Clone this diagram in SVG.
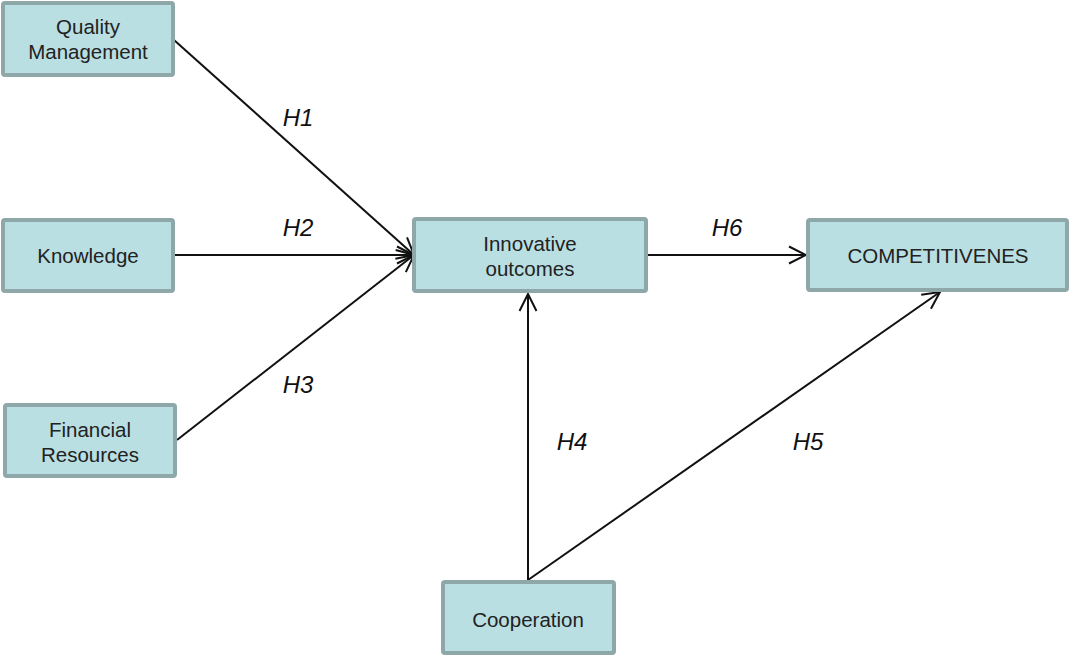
<svg xmlns="http://www.w3.org/2000/svg" width="1073" height="656" viewBox="0 0 1073 656">
<style>
.box{fill:#b9dfe3;stroke:#8ea7a9;stroke-width:4}
.t{font-family:"Liberation Sans",Arial,sans-serif;font-size:20.5px;fill:#222;text-anchor:middle}
.h{font-family:"Liberation Sans",Arial,sans-serif;font-size:24px;font-style:italic;fill:#111;text-anchor:middle}
.c{stroke:#111;stroke-width:2;fill:none;marker-end:url(#arr)}
</style>
<defs>
<marker id="arr" viewBox="0 0 20 20" refX="18" refY="10" markerWidth="20" markerHeight="20" markerUnits="userSpaceOnUse" orient="auto">
<path d="M1,1.5 L18,10 L1,18.5" fill="none" stroke="#111" stroke-width="2"/>
</marker>
</defs>
<rect width="1073" height="656" fill="#fff"/>
<g id="connectors">
<line class="c" x1="174" y1="40" x2="414" y2="255"/>
<line class="c" x1="174" y1="255" x2="414" y2="255"/>
<line class="c" x1="177" y1="440" x2="414" y2="255"/>
<line class="c" x1="648" y1="255" x2="806" y2="255"/>
<line class="c" x1="528" y1="580" x2="528" y2="294"/>
<line class="c" x1="528" y1="580" x2="940" y2="292"/>
<text class="h" x="298" y="126">H1</text>
<text class="h" x="298" y="236">H2</text>
<text class="h" x="298" y="393">H3</text>
<text class="h" x="727" y="236">H6</text>
<text class="h" x="572" y="450">H4</text>
<text class="h" x="808" y="450">H5</text>
</g>
<g id="quality"><rect class="box" x="3" y="3" width="170" height="72" rx="2"/><text class="t" x="88" y="34">Quality</text><text class="t" x="88" y="59">Management</text></g>
<g id="knowledge"><rect class="box" x="3" y="220" width="170" height="71" rx="2"/><text class="t" x="88" y="263">Knowledge</text></g>
<g id="financial"><rect class="box" x="5" y="405" width="170" height="71" rx="2"/><text class="t" x="90" y="437">Financial</text><text class="t" x="90" y="462">Resources</text></g>
<g id="innovative"><rect class="box" x="414" y="219" width="232" height="72" rx="2"/><text class="t" x="530" y="251">Innovative</text><text class="t" x="530" y="276">outcomes</text></g>
<g id="competitiveness"><rect class="box" x="808" y="220" width="259" height="70" rx="2"/><text class="t" x="938" y="263">COMPETITIVENES</text></g>
<g id="cooperation"><rect class="box" x="443" y="582" width="171" height="71" rx="2"/><text class="t" x="528" y="627">Cooperation</text></g>
</svg>
